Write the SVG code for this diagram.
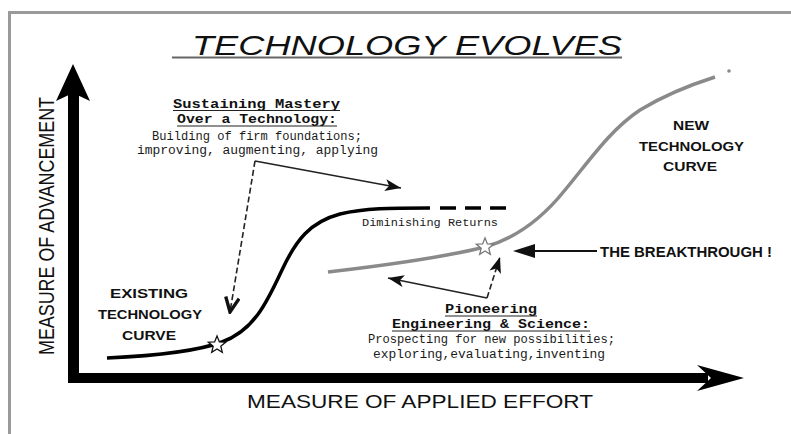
<svg xmlns="http://www.w3.org/2000/svg" width="791" height="434" viewBox="0 0 791 434">
<defs>
<style>
.frame{stroke:#9a9a9a;stroke-width:3;fill:none}
.pix{font-family:"Liberation Mono","DejaVu Sans Mono",monospace;fill:#1a1a1a}
.pixb{font-family:"Liberation Mono","DejaVu Sans Mono",monospace;font-weight:bold;fill:#111}
.lbl{font-family:"Liberation Sans",Arial,sans-serif;font-weight:bold;fill:#111}
.axis{font-family:"Liberation Sans",Arial,sans-serif;fill:#111}
.ul{stroke:#222;stroke-width:1.2}
.thin{stroke:#222;stroke-width:1.6;fill:none}
.dash{stroke:#222;stroke-width:1.6;fill:none;stroke-dasharray:6 3}
</style>
<marker id="barb" markerUnits="userSpaceOnUse" markerWidth="18" markerHeight="12" viewBox="0 0 16 12" refX="16" refY="6" orient="auto">
<path d="M0,0 L16,6 L0,12 L4,6 Z" fill="#111"/>
</marker>
<marker id="vee" markerUnits="userSpaceOnUse" markerWidth="18" markerHeight="16" viewBox="-1 -1 16 14" refX="13" refY="6" orient="auto">
<path d="M0,0 L13,6 L0,12" fill="none" stroke="#111" stroke-width="3"/>
</marker>
</defs>
<rect width="791" height="434" fill="#ffffff"/>
<path class="frame" d="M9.5,434 L9.5,12.5 L791,12.5"/>

<g id="title">
<text x="192" y="55" font-family="'Liberation Sans',Arial,sans-serif" font-style="italic" font-size="28" fill="#111" textLength="430" lengthAdjust="spacingAndGlyphs">TECHNOLOGY EVOLVES</text>
<line x1="172" y1="57.5" x2="622" y2="57.5" stroke="#666" stroke-width="2"/>
</g>

<g id="y-axis">
<rect x="68" y="92" width="11" height="291" fill="#000"/>
<polygon points="73,64 90,101 73,93 56,101" fill="#000"/>
<text transform="translate(54,226) rotate(-90)" text-anchor="middle" class="axis" font-size="22" textLength="258" lengthAdjust="spacingAndGlyphs">MEASURE OF ADVANCEMENT</text>
</g>

<g id="x-axis">
<rect x="68" y="373" width="640" height="10" fill="#000"/>
<polygon points="744,378 697,365 711,378 697,391" fill="#000"/>
<text x="247" y="408" class="axis" font-size="19" textLength="346" lengthAdjust="spacingAndGlyphs">MEASURE OF APPLIED EFFORT</text>
</g>

<g id="existing-curve">
<path d="M107,358 C150,356 195,352 222,342 C255,330 268,300 282,270 C296,240 310,222 340,214 C365,208 390,208 430,208" fill="none" stroke="#000" stroke-width="3.5"/>
<path d="M440,208 L508,208" fill="none" stroke="#000" stroke-width="3.5" stroke-dasharray="16 9"/>
<polygon points="217,336 219.4,341.9 225.6,342.2 220.8,346.2 222.3,352.3 217,348.9 211.7,352.3 213.2,346.2 208.4,342.2 214.6,341.9" fill="#fff" stroke="#111" stroke-width="1.3"/>
<text x="98" y="298" class="lbl" font-size="13" dx="12" textLength="78" lengthAdjust="spacingAndGlyphs">EXISTING</text>
<text x="98" y="319" class="lbl" font-size="13" textLength="104" lengthAdjust="spacingAndGlyphs">TECHNOLOGY</text>
<text x="122" y="340" class="lbl" font-size="13" textLength="54" lengthAdjust="spacingAndGlyphs">CURVE</text>
<text x="362" y="226" class="pix" font-size="11" textLength="136" lengthAdjust="spacingAndGlyphs">Diminishing Returns</text>
</g>

<g id="new-curve">
<path d="M328,272 C380,266 440,258 485,247 C520,237 545,215 565,190 C590,160 610,130 640,110 C668,93 693,84 715,77" fill="none" stroke="#8a8a8a" stroke-width="3.5"/>
<circle cx="729" cy="71" r="1.8" fill="#8a8a8a"/>
<polygon points="485,238 487.4,243.9 493.6,244.2 488.8,248.2 490.3,254.3 485,250.9 479.7,254.3 481.2,248.2 476.4,244.2 482.6,243.9" fill="#fff" stroke="#777" stroke-width="1.3"/>
<text x="673" y="130" class="lbl" font-size="13" textLength="36" lengthAdjust="spacingAndGlyphs">NEW</text>
<text x="639" y="151" class="lbl" font-size="13" textLength="105" lengthAdjust="spacingAndGlyphs">TECHNOLOGY</text>
<text x="663" y="171" class="lbl" font-size="13" textLength="54" lengthAdjust="spacingAndGlyphs">CURVE</text>
</g>

<g id="sustaining">
<text x="173" y="108" class="pixb" font-size="12" textLength="167" lengthAdjust="spacingAndGlyphs">Sustaining Mastery</text>
<line class="ul" x1="173" y1="110.5" x2="340" y2="110.5"/>
<text x="177" y="123" class="pixb" font-size="12" textLength="160" lengthAdjust="spacingAndGlyphs">Over a Technology:</text>
<line class="ul" x1="177" y1="126" x2="337" y2="126"/>
<text x="152" y="140" class="pix" font-size="12" textLength="210" lengthAdjust="spacingAndGlyphs">Building of firm foundations;</text>
<text x="137" y="154" class="pix" font-size="12" textLength="241" lengthAdjust="spacingAndGlyphs">improving, augmenting, applying</text>
</g>

<g id="pioneering">
<text x="445" y="313" class="pixb" font-size="12" textLength="92" lengthAdjust="spacingAndGlyphs">Pioneering</text>
<line class="ul" x1="445" y1="316" x2="537" y2="316"/>
<text x="392" y="328" class="pixb" font-size="12" textLength="198" lengthAdjust="spacingAndGlyphs">Engineering &amp; Science:</text>
<line class="ul" x1="392" y1="331" x2="590" y2="331"/>
<text x="368" y="343" class="pix" font-size="12" textLength="247" lengthAdjust="spacingAndGlyphs">Prospecting for new possibilities;</text>
<text x="373" y="358" class="pix" font-size="12" textLength="232" lengthAdjust="spacingAndGlyphs">exploring,evaluating,inventing</text>
</g>

<g id="breakthrough">
<text x="600" y="257" class="lbl" font-size="14" textLength="172" lengthAdjust="spacingAndGlyphs">THE BREAKTHROUGH !</text>
</g>

<g id="connectors">
<path class="thin" d="M255,161 L401,188" marker-end="url(#barb)"/>
<path class="dash" d="M255,161 L230,312" marker-end="url(#vee)"/>
<path class="thin" d="M487,298 L388,278" marker-end="url(#barb)"/>
<path class="dash" d="M487,298 L500,257" marker-end="url(#barb)"/>
<path d="M597,251 L520,251" stroke="#111" stroke-width="2.2" fill="none"/>
<polygon points="513,251 535,244 535,258" fill="#111"/>
</g>
</svg>
